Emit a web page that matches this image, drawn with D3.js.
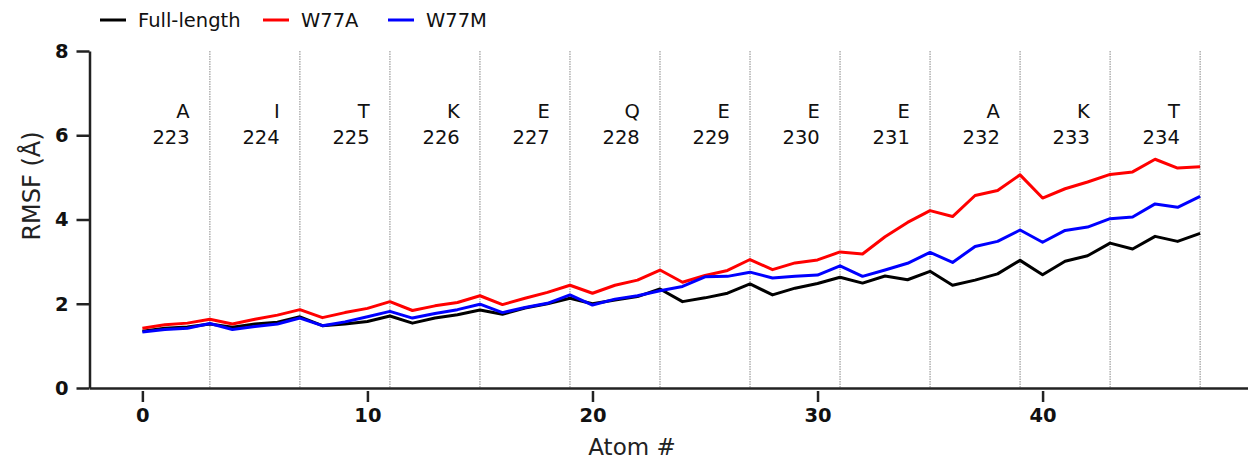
<!DOCTYPE html>
<html>
<head>
<meta charset="utf-8">
<script src="https://cdn.jsdelivr.net/npm/d3@7"></script>
<style>
  body { margin: 0; background: #fff; }
  svg { display: block; font-family: "DejaVu Sans", sans-serif; }
</style>
</head>
<body>
<div class="canvas"></div>
<script>
// RMSF per atom
const fullLength = [1.35, 1.42, 1.45, 1.52, 1.44, 1.52, 1.56, 1.69, 1.48, 1.52,
  1.58, 1.71, 1.54, 1.66, 1.74, 1.85, 1.75, 1.90, 2.00, 2.13,
  2.00, 2.09, 2.17, 2.35, 2.05, 2.14, 2.25, 2.47, 2.21, 2.37,
  2.48, 2.63, 2.49, 2.66, 2.57, 2.77, 2.44, 2.56, 2.71, 3.03,
  2.69, 3.01, 3.14, 3.44, 3.30, 3.60, 3.48, 3.67];
const w77a = [1.42, 1.50, 1.54, 1.63, 1.52, 1.63, 1.73, 1.86, 1.67, 1.79,
  1.89, 2.05, 1.84, 1.95, 2.03, 2.19, 1.98, 2.13, 2.27, 2.44,
  2.25, 2.44, 2.56, 2.80, 2.51, 2.67, 2.79, 3.05, 2.81, 2.97,
  3.04, 3.23, 3.18, 3.59, 3.93, 4.21, 4.07, 4.57, 4.69, 5.06,
  4.51, 4.73, 4.89, 5.07, 5.13, 5.43, 5.22, 5.25];
const w77m = [1.33, 1.39, 1.42, 1.53, 1.39, 1.46, 1.52, 1.66, 1.48, 1.57,
  1.69, 1.82, 1.66, 1.77, 1.86, 1.99, 1.79, 1.91, 2.01, 2.21,
  1.97, 2.11, 2.19, 2.31, 2.41, 2.64, 2.65, 2.75, 2.61, 2.65,
  2.68, 2.90, 2.65, 2.80, 2.96, 3.22, 2.98, 3.36, 3.48, 3.75,
  3.46, 3.74, 3.82, 4.02, 4.06, 4.37, 4.29, 4.55];

const residues = ["A", "I", "T", "K", "E", "Q", "E", "E", "E", "A", "K", "T"];
const resNums = [223, 224, 225, 226, 227, 228, 229, 230, 231, 232, 233, 234];
const boundaries = [3, 7, 11, 15, 19, 23, 27, 31, 35, 39, 43, 47];
const xTicks = [0, 10, 20, 30, 40];
const yTicks = [0, 2, 4, 6, 8];

const series = [
  { name: "Full-length", values: fullLength, color: "#000000" },
  { name: "W77A", values: w77a, color: "#ff0000" },
  { name: "W77M", values: w77m, color: "#0000ff" }
];

const width = 1248, height = 462;
const svg = d3.select(".canvas").append("svg")
  .attr("width", width).attr("height", height);

const x = d3.scaleLinear().domain([-2.35, 49.35]).range([89.5, 1253]);
const y = d3.scaleLinear().domain([0, 8]).range([388, 51]);

// residue separators
svg.append("g").selectAll("line")
  .data(boundaries)
  .join("line")
  .attr("x1", d => x(d)).attr("x2", d => x(d))
  .attr("y1", y(8)).attr("y2", y(0))
  .attr("stroke", "#888")
  .attr("stroke-width", 1)
  .attr("stroke-dasharray", "1.5,1");

// residue labels
const lab = svg.append("g").selectAll("text")
  .data(residues)
  .join("text")
  .attr("text-anchor", "end")
  .attr("font-size", 19.5)
  .attr("fill", "#111");
lab.append("tspan")
  .attr("x", (d, i) => x(i * 4 + 2.1))
  .attr("y", 118)
  .text(d => d);
lab.append("tspan")
  .attr("x", (d, i) => x(i * 4 + 2.1))
  .attr("y", 144)
  .text((d, i) => resNums[i]);

// lines
const line = d3.line()
  .x((d, i) => x(i))
  .y(d => y(d));

svg.append("g").selectAll("path")
  .data(series)
  .join("path")
  .attr("d", d => line(d.values))
  .attr("fill", "none")
  .attr("stroke", d => d.color)
  .attr("stroke-width", 3)
  .attr("stroke-linejoin", "round");

// axes
const xAxis = svg.append("g")
  .attr("transform", `translate(0,${y(0)})`)
  .call(d3.axisBottom(x).tickValues(xTicks).tickSize(14).tickPadding(6).tickSizeOuter(0));
const yAxis = svg.append("g")
  .attr("transform", `translate(${x.range()[0]},0)`)
  .call(d3.axisLeft(y).tickValues(yTicks).tickSize(13).tickPadding(8).tickSizeOuter(0));

[xAxis, yAxis].forEach(g => {
  g.select(".domain").attr("stroke", "#222").attr("stroke-width", 2.5);
  g.selectAll(".tick line").attr("stroke", "#222").attr("stroke-width", 2.5);
  g.selectAll(".tick text")
    .attr("font-family", "DejaVu Sans, sans-serif")
    .attr("font-size", 19.5)
    .attr("font-weight", "bold")
    .attr("fill", "#111");
});
xAxis.selectAll(".tick line").attr("y1", 3);

svg.append("text")
  .attr("x", 632).attr("y", 455)
  .attr("text-anchor", "middle")
  .attr("font-size", 23)
  .attr("fill", "#222")
  .text("Atom #");

svg.append("text")
  .attr("transform", `translate(40,186) rotate(-90)`)
  .attr("text-anchor", "middle")
  .attr("font-size", 24)
  .attr("fill", "#222")
  .text("RMSF (Å)");

// legend
const legendX = [100, 263, 388];
const leg = svg.append("g").selectAll("g")
  .data(series)
  .join("g")
  .attr("transform", (d, i) => `translate(${legendX[i]},20)`);
leg.append("line")
  .attr("x1", 0).attr("x2", 26)
  .attr("stroke", d => d.color)
  .attr("stroke-width", 3);
leg.append("text")
  .attr("x", 38).attr("y", 7)
  .attr("font-size", 19.5)
  .attr("fill", "#111")
  .text(d => d.name);
</script>
</body>
</html>
